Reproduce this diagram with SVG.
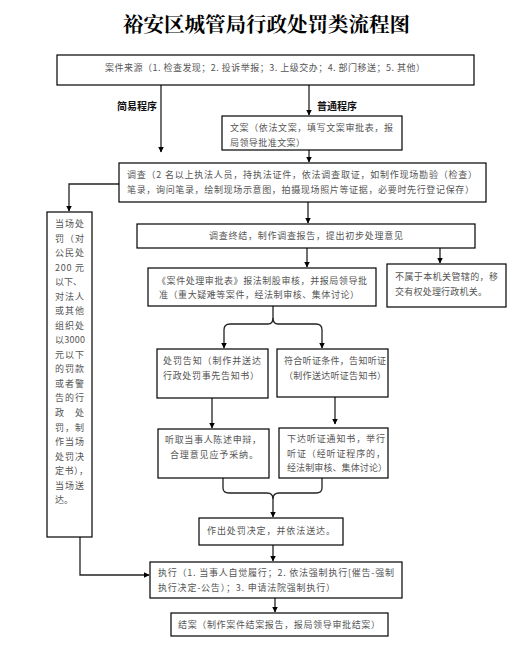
<svg xmlns="http://www.w3.org/2000/svg" width="520" height="661" viewBox="0 0 520 661">
<style>
.box{fill:#fff;stroke:#000;stroke-width:1.2}
.t{font-family:"Noto Sans CJK SC","Noto Sans",sans-serif;font-size:9px;fill:#555}
.lab{font-family:"Noto Sans CJK SC","Noto Sans",sans-serif;font-size:10px;font-weight:bold;fill:#111}
.title{font-family:"Noto Serif CJK SC","Noto Sans CJK SC",serif;font-size:20px;font-weight:bold;fill:#000}
.c{fill:none;stroke:#222;stroke-width:1.3}
</style>
<defs>
<marker id="ah" markerWidth="6" markerHeight="6" refX="5.5" refY="3" orient="auto" markerUnits="userSpaceOnUse">
<path d="M0,0 L6,3 L0,6 Z" fill="#000"/>
</marker>
</defs>
<rect width="520" height="661" fill="#fff"/>
<text class="title" x="123" y="32" textLength="287" lengthAdjust="spacingAndGlyphs">裕安区城管局行政处罚类流程图</text>

<g id="connectors">
<path class="c" d="M161,85 V152" marker-end="url(#ah)"/>
<path class="c" d="M309,85 V115" marker-end="url(#ah)"/>
<path class="c" d="M309,150 V162" marker-end="url(#ah)"/>
<path class="c" d="M119,184 H69 V211" marker-end="url(#ah)"/>
<path class="c" d="M308,202 V223" marker-end="url(#ah)"/>
<path class="c" d="M307,248 V267" marker-end="url(#ah)"/>
<path class="c" d="M440,248 V263" marker-end="url(#ah)"/>
<path class="c" d="M273,306 V318 Q273,324 268,324 H230 Q224,324 224,330 V348" marker-end="url(#ah)"/>
<path class="c" d="M273,318 Q273,324 278,324 H316 Q322,324 322,330 V348" marker-end="url(#ah)"/>
<path class="c" d="M212,398 V428" marker-end="url(#ah)"/>
<path class="c" d="M335,397 V424" marker-end="url(#ah)"/>
<path class="c" d="M223,478 V488 Q223,493 229,493 H267 Q273,493 273,499 V517" marker-end="url(#ah)"/>
<path class="c" d="M322,478 V488 Q322,493 316,493 H279 Q273,493 273,499"/>
<path class="c" d="M273,545 V561" marker-end="url(#ah)"/>
<path class="c" d="M80,537 V575 H149" marker-end="url(#ah)"/>
<path class="c" d="M275,598 V612" marker-end="url(#ah)"/>
</g>

<g id="labels">
<text class="lab" x="117" y="110">简易程序</text>
<text class="lab" x="317" y="110">普通程序</text>
</g>

<g id="n-source">
<rect class="box" x="57" y="55" width="417" height="30"/>
<text class="t" x="105" y="71" textLength="320" lengthAdjust="spacing">案件来源（1. 检查发现；2. 投诉举报；3. 上级交办；4. 部门移送；5. 其他）</text>
</g>

<g id="n-lian">
<rect class="box" x="222" y="116" width="180" height="34"/>
<text class="t" x="230" y="131" textLength="163" lengthAdjust="spacing">文案（依法文案，填写文案审批表，报</text>
<text class="t" x="230" y="146" textLength="75" lengthAdjust="spacing">局领导批准文案）</text>
</g>

<g id="n-diaocha">
<rect class="box" x="119" y="163" width="367" height="39"/>
<text class="t" x="127" y="178" textLength="350" lengthAdjust="spacing">调查（2 名以上执法人员，持执法证件，依法调查取证，如制作现场勘验（检查）</text>
<text class="t" x="127" y="193" textLength="347" lengthAdjust="spacing">笔录，询问笔录，绘制现场示意图，拍摄现场照片等证据，必要时先行登记保存）</text>
</g>

<g id="n-dangchang">
<rect class="box" x="47" y="212" width="45" height="325"/>
<text class="t" x="55" y="227" textLength="29" lengthAdjust="spacing">当场处</text>
<text class="t" x="55" y="242" textLength="29" lengthAdjust="spacing">罚（对</text>
<text class="t" x="55" y="256" textLength="29" lengthAdjust="spacing">公民处</text>
<text class="t" x="55" y="271" textLength="29" lengthAdjust="spacing">200 元</text>
<text class="t" x="55" y="285" textLength="27" lengthAdjust="spacing">以下、</text>
<text class="t" x="55" y="300" textLength="29" lengthAdjust="spacing">对法人</text>
<text class="t" x="55" y="314" textLength="29" lengthAdjust="spacing">或其他</text>
<text class="t" x="55" y="329" textLength="29" lengthAdjust="spacing">组织处</text>
<text class="t" x="55" y="343" textLength="30" lengthAdjust="spacing">以3000</text>
<text class="t" x="55" y="358" textLength="29" lengthAdjust="spacing">元以下</text>
<text class="t" x="55" y="372" textLength="29" lengthAdjust="spacing">的罚款</text>
<text class="t" x="55" y="387" textLength="29" lengthAdjust="spacing">或者警</text>
<text class="t" x="55" y="401" textLength="29" lengthAdjust="spacing">告的行</text>
<text class="t" x="55" y="416" textLength="29" lengthAdjust="spacing">政　处</text>
<text class="t" x="55" y="431" textLength="29" lengthAdjust="spacing">罚，制</text>
<text class="t" x="55" y="445" textLength="29" lengthAdjust="spacing">作当场</text>
<text class="t" x="55" y="460" textLength="29" lengthAdjust="spacing">处罚决</text>
<text class="t" x="55" y="474" textLength="33" lengthAdjust="spacing">定书），</text>
<text class="t" x="55" y="489" textLength="29" lengthAdjust="spacing">当场送</text>
<text class="t" x="55" y="503">达。</text>
</g>

<g id="n-zhongjie">
<rect class="box" x="137" y="224" width="338" height="24"/>
<text class="t" x="209" y="239" textLength="194" lengthAdjust="spacing">调查终结，制作调查报告，提出初步处理意见</text>
</g>

<g id="n-shenpi">
<rect class="box" x="148" y="268" width="228" height="38"/>
<text class="t" x="157" y="284" textLength="210" lengthAdjust="spacing">《案件处理审批表》报法制股审核，并报局领导批</text>
<text class="t" x="159" y="298" textLength="200" lengthAdjust="spacing">准（重大疑难等案件，经法制审核、集体讨论）</text>
</g>

<g id="n-yisong">
<rect class="box" x="387" y="264" width="119" height="43"/>
<text class="t" x="395" y="280" textLength="103" lengthAdjust="spacing">不属于本机关管辖的，移</text>
<text class="t" x="395" y="295" textLength="92" lengthAdjust="spacing">交有权处理行政机关。</text>
</g>

<g id="n-gaozhi">
<rect class="box" x="157" y="349" width="111" height="49"/>
<text class="t" x="163" y="364" textLength="98" lengthAdjust="spacing">处罚告知（制作并送达</text>
<text class="t" x="163" y="379" textLength="96" lengthAdjust="spacing">行政处罚事先告知书）</text>
</g>

<g id="n-tingzheng">
<rect class="box" x="277" y="349" width="111" height="48"/>
<text class="t" x="284" y="364" textLength="102" lengthAdjust="spacing">符合听证条件，告知听证</text>
<text class="t" x="284" y="379" textLength="102" lengthAdjust="spacing">（制作送达听证告知书）</text>
</g>

<g id="n-tingqu">
<rect class="box" x="158" y="429" width="111" height="49"/>
<text class="t" x="165" y="443" textLength="96" lengthAdjust="spacing">听取当事人陈述申辩，</text>
<text class="t" x="170" y="458" textLength="88" lengthAdjust="spacing">合理意见应予采纳。</text>
</g>

<g id="n-xiada">
<rect class="box" x="279" y="428" width="109" height="50"/>
<text class="t" x="287" y="442" textLength="98" lengthAdjust="spacing">下达听证通知书，举行</text>
<text class="t" x="287" y="457" textLength="98" lengthAdjust="spacing">听证（经听证程序的，</text>
<text class="t" x="287" y="471" textLength="100" lengthAdjust="spacing">经法制审核、集体讨论）</text>
</g>

<g id="n-jueding">
<rect class="box" x="199" y="518" width="144" height="27"/>
<text class="t" x="207" y="534" textLength="128" lengthAdjust="spacing">作出处罚决定，并依法送达。</text>
</g>

<g id="n-zhixing">
<rect class="box" x="150" y="562" width="252" height="36"/>
<text class="t" x="158" y="576" textLength="236" lengthAdjust="spacing">执行（1. 当事人自觉履行；2. 依法强制执行[催告-强制</text>
<text class="t" x="158" y="591" textLength="177" lengthAdjust="spacing">执行决定-公告）；3. 申请法院强制执行）</text>
</g>

<g id="n-jiean">
<rect class="box" x="171" y="613" width="217" height="23"/>
<text class="t" x="178" y="628" textLength="202" lengthAdjust="spacing">结案（制作案件结案报告，报局领导审批结案）</text>
</g>
</svg>
